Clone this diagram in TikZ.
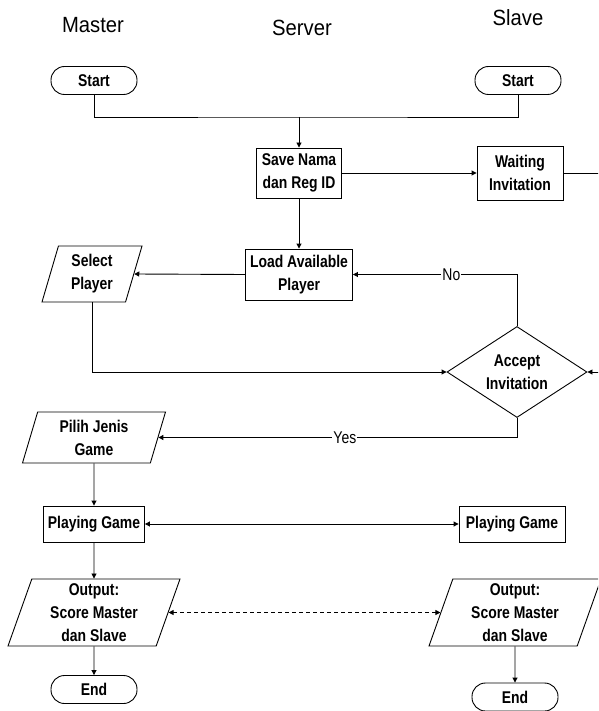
\documentclass[tikz,border=0pt]{standalone}
\usepackage{fontspec}
\setmainfont{Liberation Sans}
\newfontfamily\narrowfont[FakeStretch=0.82]{Liberation Sans}
\newfontfamily\lanefont[FakeStretch=0.92]{Liberation Sans}
\usetikzlibrary{shapes.geometric, arrows.meta, positioning}

\begin{document}
\begin{tikzpicture}[
  x=1pt, y=-1pt,
  line width=0.9pt,
  font=\narrowfont\bfseries\fontsize{17}{23}\selectfont,
  >={Triangle[length=5pt,width=5pt]},
  block/.style={
    draw, align=center, inner sep=2pt
  },
  term/.style={block, rounded corners=13.5pt, minimum width=86pt, minimum height=28pt},
  proc/.style={block, minimum width=86pt, minimum height=50pt},
  io/.style={block, trapezium, trapezium left angle=69, trapezium right angle=111,
    trapezium stretches body, minimum width=143pt, minimum height=51pt},
  dec/.style={block, diamond, inner sep=0pt, aspect=1.54, minimum width=140pt, minimum height=91pt},
  lane/.style={font=\lanefont\fontsize{22}{26}\selectfont},
  lbl/.style={fill=white, inner sep=1pt, font=\narrowfont\fontsize{17}{20}\selectfont}
]
\useasboundingbox (0,0) rectangle (598,711);
\clip (0,0) rectangle (598,711);

% lanes
\node[lane] (lmaster) at (93,25) {Master};
\node[lane] (lserver) at (302,28) {Server};
\node[lane] (lslave) at (518,18) {Slave};

% master side
\node[term] (mstart) at (94,80.5) {Start};
\node[io, minimum width=100pt, minimum height=56pt] (select) at (92,274) {Select\\Player};
\node[io] (pilih) at (94,437.5) {Pilih Jenis\\Game};
\node[proc, minimum width=101pt, minimum height=36pt] (mplay) at (94,524) {Playing Game};
\node[io, minimum width=172pt, minimum height=67pt] (mout) at (94,612.5) {Output:\\Score Master\\dan Slave};
\node[term] (mend) at (94,689.5) {End};

% server
\node[proc, minimum width=85pt] (save) at (299,173) {Save Nama\\dan Reg ID};
\node[proc, minimum width=107pt, minimum height=51pt] (load) at (299,274.5) {Load Available\\Player};
\node[dec] (accept) at (517,372) {Accept\\Invitation};

% slave side
\node[term] (sstart) at (518,80.5) {Start};
\node[proc, minimum height=54pt] (wait) at (520,173) {Waiting\\Invitation};
\node[proc, minimum width=106pt, minimum height=36pt] (splay) at (512,524) {Playing Game};
\node[io, minimum width=172pt, minimum height=67pt] (sout) at (515,612.5) {Output:\\Score Master\\dan Slave};
\node[term] (send) at (515,697) {End};

\coordinate (join) at (299,117);
\coordinate (offr) at (603,173);

\draw (mstart.south) |- (join) -| (sstart.south);
\draw[->] (join) -- (save.north);
\draw[->] (save.east) -- (wait.west);
\draw[->] (wait.east) -- (offr) |- (accept.east);
\draw[->] (save.south) -- (load.north);
\draw[->] (load.west) -- (select.east);
\draw[->] (select.south) |- (accept.west);
\draw[->] (accept.north) |- node[lbl, pos=0.7] {No} (load.east);
\draw[->] (accept.south) |- node[lbl, pos=0.74] {Yes} (pilih.east);
\draw[->] (pilih.south) -- (mplay.north);
\draw[<->] (mplay.east) -- (splay.west);
\draw[->] (mplay.south) -- (mout.north);
\draw[<->, dash pattern=on 4pt off 3pt] (mout.east) -- (sout.west);
\draw[->] (mout.south) -- (mend.north);
\draw[->] (sout.south) -- (send.north);
\end{tikzpicture}
\end{document}
